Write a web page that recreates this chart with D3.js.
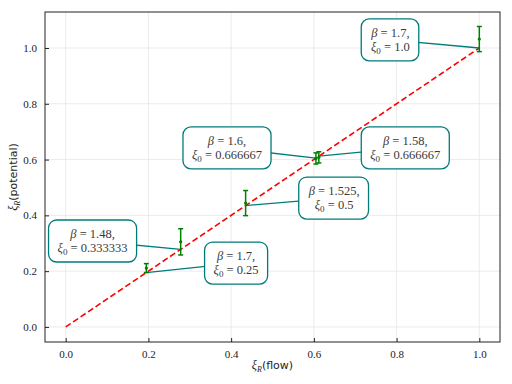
<!DOCTYPE html>
<html>
<head>
<meta charset="utf-8">
<script src="https://cdn.jsdelivr.net/npm/d3@7"></script>
<style>
  body { margin: 0; background: #fff; }
  svg text { font-family: "Liberation Serif", "DejaVu Serif", serif; }
</style>
</head>
<body>
<script>
// data
const flowX = [0.195, 0.278, 0.435, 0.605, 0.612, 1.0];
const potY = [0.211, 0.305, 0.444, 0.604, 0.608, 1.032];
const potErr = [0.016, 0.047, 0.045, 0.02, 0.02, 0.045];
const betas = ["1.7", "1.48", "1.525", "1.6", "1.58", "1.7"];
const xi0s = ["0.25", "0.333333", "0.5", "0.666667", "0.666667", "1.0"];
// where the label boxes sit (data coords)
const labelX = [0.412, 0.065, 0.649, 0.39, 0.821, 0.785];
const labelY = [0.229, 0.308, 0.462, 0.642, 0.642, 1.029];
const tickVals = [0.0, 0.2, 0.4, 0.6, 0.8, 1.0];

const W = 512, H = 384;
const m = {left: 45, right: 12, top: 12, bottom: 42};

const svg = d3.select("body").append("svg").attr("width", W).attr("height", H);

const x = d3.scaleLinear().domain([-0.05, 1.05]).range([m.left, W - m.right]);
const y = d3.scaleLinear().domain([-0.054, 1.129]).range([H - m.bottom, m.top]);

//grid
const grid = svg.append("g");
grid.selectAll(".gx").data(tickVals).enter().append("line")
  .attr("x1", d => x(d)).attr("x2", d => x(d)).attr("y1", m.top).attr("y2", H - m.bottom)
  .attr("stroke", "#e6e6e6").attr("stroke-width", 0.8);
grid.selectAll(".gy").data(tickVals).enter().append("line")
  .attr("y1", d => y(d)).attr("y2", d => y(d)).attr("x1", m.left).attr("x2", W - m.right)
  .attr("stroke", "#e6e6e6").attr("stroke-width", 0.8);

//axes, ticks inward
const xAxis = d3.axisBottom(x).tickValues(tickVals).tickSizeInner(-4).tickSizeOuter(0).tickPadding(8).tickFormat(d3.format(".1f"));
const yAxis = d3.axisLeft(y).tickValues(tickVals).tickSizeInner(-4).tickSizeOuter(0).tickPadding(8).tickFormat(d3.format(".1f"));
const gx = svg.append("g").attr("transform", `translate(0,${H - m.bottom})`).call(xAxis);
const gy = svg.append("g").attr("transform", `translate(${m.left},0)`).call(yAxis);
[gx, gy].forEach(g => {
  g.select(".domain").remove();
  g.selectAll("text").style("font-size", "11px").attr("fill", "#222").style("font-family", "'Liberation Serif', serif");
  g.selectAll("line").attr("stroke", "#222");
});

//frame
svg.append("rect").attr("x", m.left).attr("y", m.top)
  .attr("width", W - m.left - m.right).attr("height", H - m.top - m.bottom)
  .attr("fill", "none").attr("stroke", "#222").attr("stroke-width", 1);

//identity line
svg.append("line")
  .attr("x1", x(0)).attr("y1", y(0)).attr("x2", x(1)).attr("y2", y(1))
  .attr("stroke", "#ff0000").attr("stroke-width", 1.6).attr("stroke-dasharray", "6,3");

//annotation connectors (drawn under boxes)
const ann = svg.append("g");
flowX.forEach((fx, i) => {
  ann.append("line")
    .attr("x1", x(labelX[i])).attr("y1", y(labelY[i]))
    .attr("x2", x(fx)).attr("y2", y(fx))
    .attr("stroke", "#007b7b").attr("stroke-width", 1.3);
});

//error bars
const eb = svg.append("g").attr("stroke", "#008000").attr("stroke-width", 1.5);
flowX.forEach((fx, i) => {
  const cx = x(fx);
  eb.append("line").attr("x1", cx).attr("x2", cx).attr("y1", y(potY[i] - potErr[i])).attr("y2", y(potY[i] + potErr[i]));
  [potY[i] - potErr[i], potY[i] + potErr[i]].forEach(v => {
    eb.append("line").attr("x1", cx - 2.5).attr("x2", cx + 2.5).attr("y1", y(v)).attr("y2", y(v));
  });
  svg.append("circle").attr("cx", cx).attr("cy", y(potY[i])).attr("r", 1.6).attr("fill", "#008000");
});

//label boxes
flowX.forEach((fx, i) => {
  const g = svg.append("g").attr("transform", `translate(${x(labelX[i])},${y(labelY[i])})`);
  const rect = g.append("rect");
  const t = g.append("text").attr("text-anchor", "middle").style("font-size", "12.5px").attr("fill", "#3a3a3a");
  const l1 = t.append("tspan").attr("x", 0).attr("y", -3);
  l1.append("tspan").style("font-style", "italic").text("β");
  l1.append("tspan").text(" = " + betas[i] + ",");
  const l2 = t.append("tspan").attr("x", 0).attr("y", 11);
  l2.append("tspan").style("font-style", "italic").text("ξ");
  l2.append("tspan").attr("dy", 3).style("font-size", "9px").text("0");
  l2.append("tspan").attr("dy", -3).text(" = " + xi0s[i]);
  const bb = t.node().getBBox();
  rect.attr("x", bb.x - 9).attr("y", bb.y - 7).attr("width", bb.width + 18).attr("height", bb.height + 12)
    .attr("rx", 8).attr("fill", "#fff").attr("stroke", "#007b7b").attr("stroke-width", 1.3);
});

//axis titles
const xl = svg.append("text").attr("x", (m.left + W - m.right) / 2).attr("y", 369)
  .attr("text-anchor", "middle").style("font-size", "11px").attr("fill", "#222");
xl.append("tspan").style("font-style", "italic").style("font-size", "12px").text("ξ");
xl.append("tspan").attr("dy", 3).style("font-size", "8px").style("font-style", "italic").text("R");
xl.append("tspan").attr("dy", -3).style("font-family", "'DejaVu Sans', sans-serif").text("(flow)");

const yl = svg.append("text").attr("transform", `translate(17,${(m.top + H - m.bottom) / 2}) rotate(-90)`)
  .attr("text-anchor", "middle").style("font-size", "11px").attr("fill", "#222");
yl.append("tspan").style("font-style", "italic").style("font-size", "12px").text("ξ");
yl.append("tspan").attr("dy", 3).style("font-size", "8px").style("font-style", "italic").text("R");
yl.append("tspan").attr("dy", -3).style("font-family", "'DejaVu Sans', sans-serif").text("(potential)");
</script>
</body>
</html>
